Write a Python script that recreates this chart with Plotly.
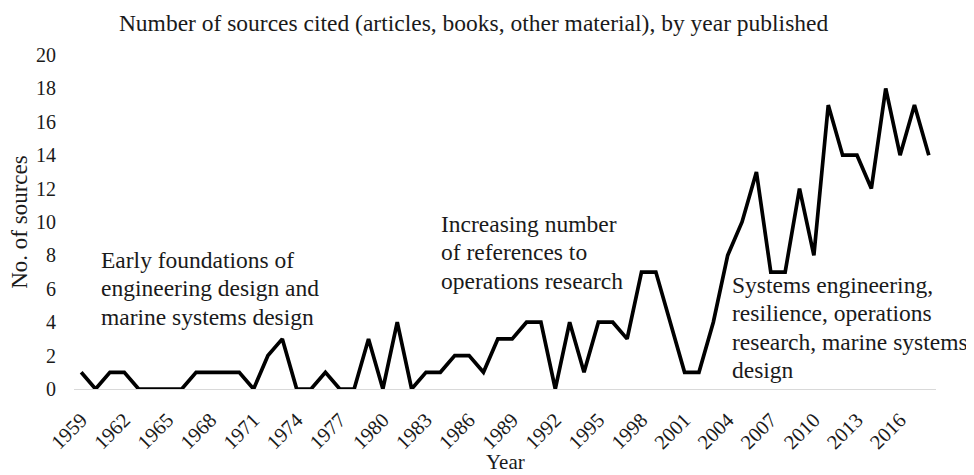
import plotly.graph_objects as go

years = list(range(1959, 2019))
sources = [1, 0, 1, 1, 0, 0, 0, 0, 1, 1,
           1, 1, 0, 2, 3, 0, 0, 1, 0, 0,
           3, 0, 4, 0, 1, 1, 2, 2, 1, 3,
           3, 4, 4, 0, 4, 1, 4, 4, 3, 7,
           7, 4, 1, 1, 4, 8, 10, 13, 7, 7,
           12, 8, 17, 14, 14, 12, 18, 14, 17, 14]
x_ticks = list(range(1959, 2017, 3))
y_ticks = list(range(0, 21, 2))

title_text = "Number of sources cited (articles, books, other material), by year published"
x_title = "Year"
y_title = "No. of sources"
notes = [
    (1960.25, 7.72, ["Early foundations of", "engineering design and", "marine systems design"]),
    (1983.93, 9.88, ["Increasing number", "of references to", "operations research"]),
    (2004.17, 6.23, ["Systems engineering,", "resilience, operations",
                     "research, marine systems", "design"]),
]
LINE_STEP = 1.7  # vertical spacing between annotation lines, in y units

FONT = "Liberation Serif"
TXT = "#1a1a1a"

fig = go.Figure()
fig.add_trace(go.Scatter(
    x=years, y=sources, mode="lines",
    line=dict(color="black", width=3.7),
    showlegend=False, hoverinfo="skip",
))

for x, y0, lines in notes:
    for i, t in enumerate(lines):
        fig.add_annotation(x=x, y=y0 - i * LINE_STEP, xref="x", yref="y", text=t,
                           showarrow=False, xanchor="left", yanchor="middle",
                           align="left", font=dict(family=FONT, size=23.5, color=TXT))

# axis titles
fig.add_annotation(x=0.5, y=-0.218, xref="paper", yref="paper", text=x_title,
                   showarrow=False, xanchor="center", yanchor="middle",
                   font=dict(family=FONT, size=21, color=TXT))
fig.add_annotation(x=-0.064, y=0.5, xref="paper", yref="paper", text=y_title,
                   showarrow=False, xanchor="center", yanchor="middle", textangle=-90,
                   font=dict(family=FONT, size=23, color=TXT))

fig.update_layout(
    width=974, height=475,
    margin=dict(l=66, r=46, t=47, b=94),
    paper_bgcolor="white", plot_bgcolor="white",
    font=dict(family=FONT, color=TXT, size=20),
    title=dict(text=title_text, x=0.478, xanchor="center", y=0.968, yanchor="middle",
               font=dict(family=FONT, size=23.5, color=TXT)),
)
fig.update_xaxes(
    range=[1958.5, 2018.5], tickmode="array", tickvals=x_ticks,
    ticktext=[str(v) for v in x_ticks], tickangle=-45, automargin=False,
    showgrid=False, zeroline=False, showline=True, linecolor="#d9d9d9", linewidth=1,
    ticks="", tickfont=dict(family=FONT, size=20.5), ticklabelstandoff=10,
)
fig.update_yaxes(
    range=[0, 20], tickmode="array", tickvals=y_ticks, automargin=False,
    showgrid=False, zeroline=False, showline=False, ticks="",
    tickfont=dict(family=FONT, size=20), ticklabelstandoff=17,
)

fig.write_html("out.html")
